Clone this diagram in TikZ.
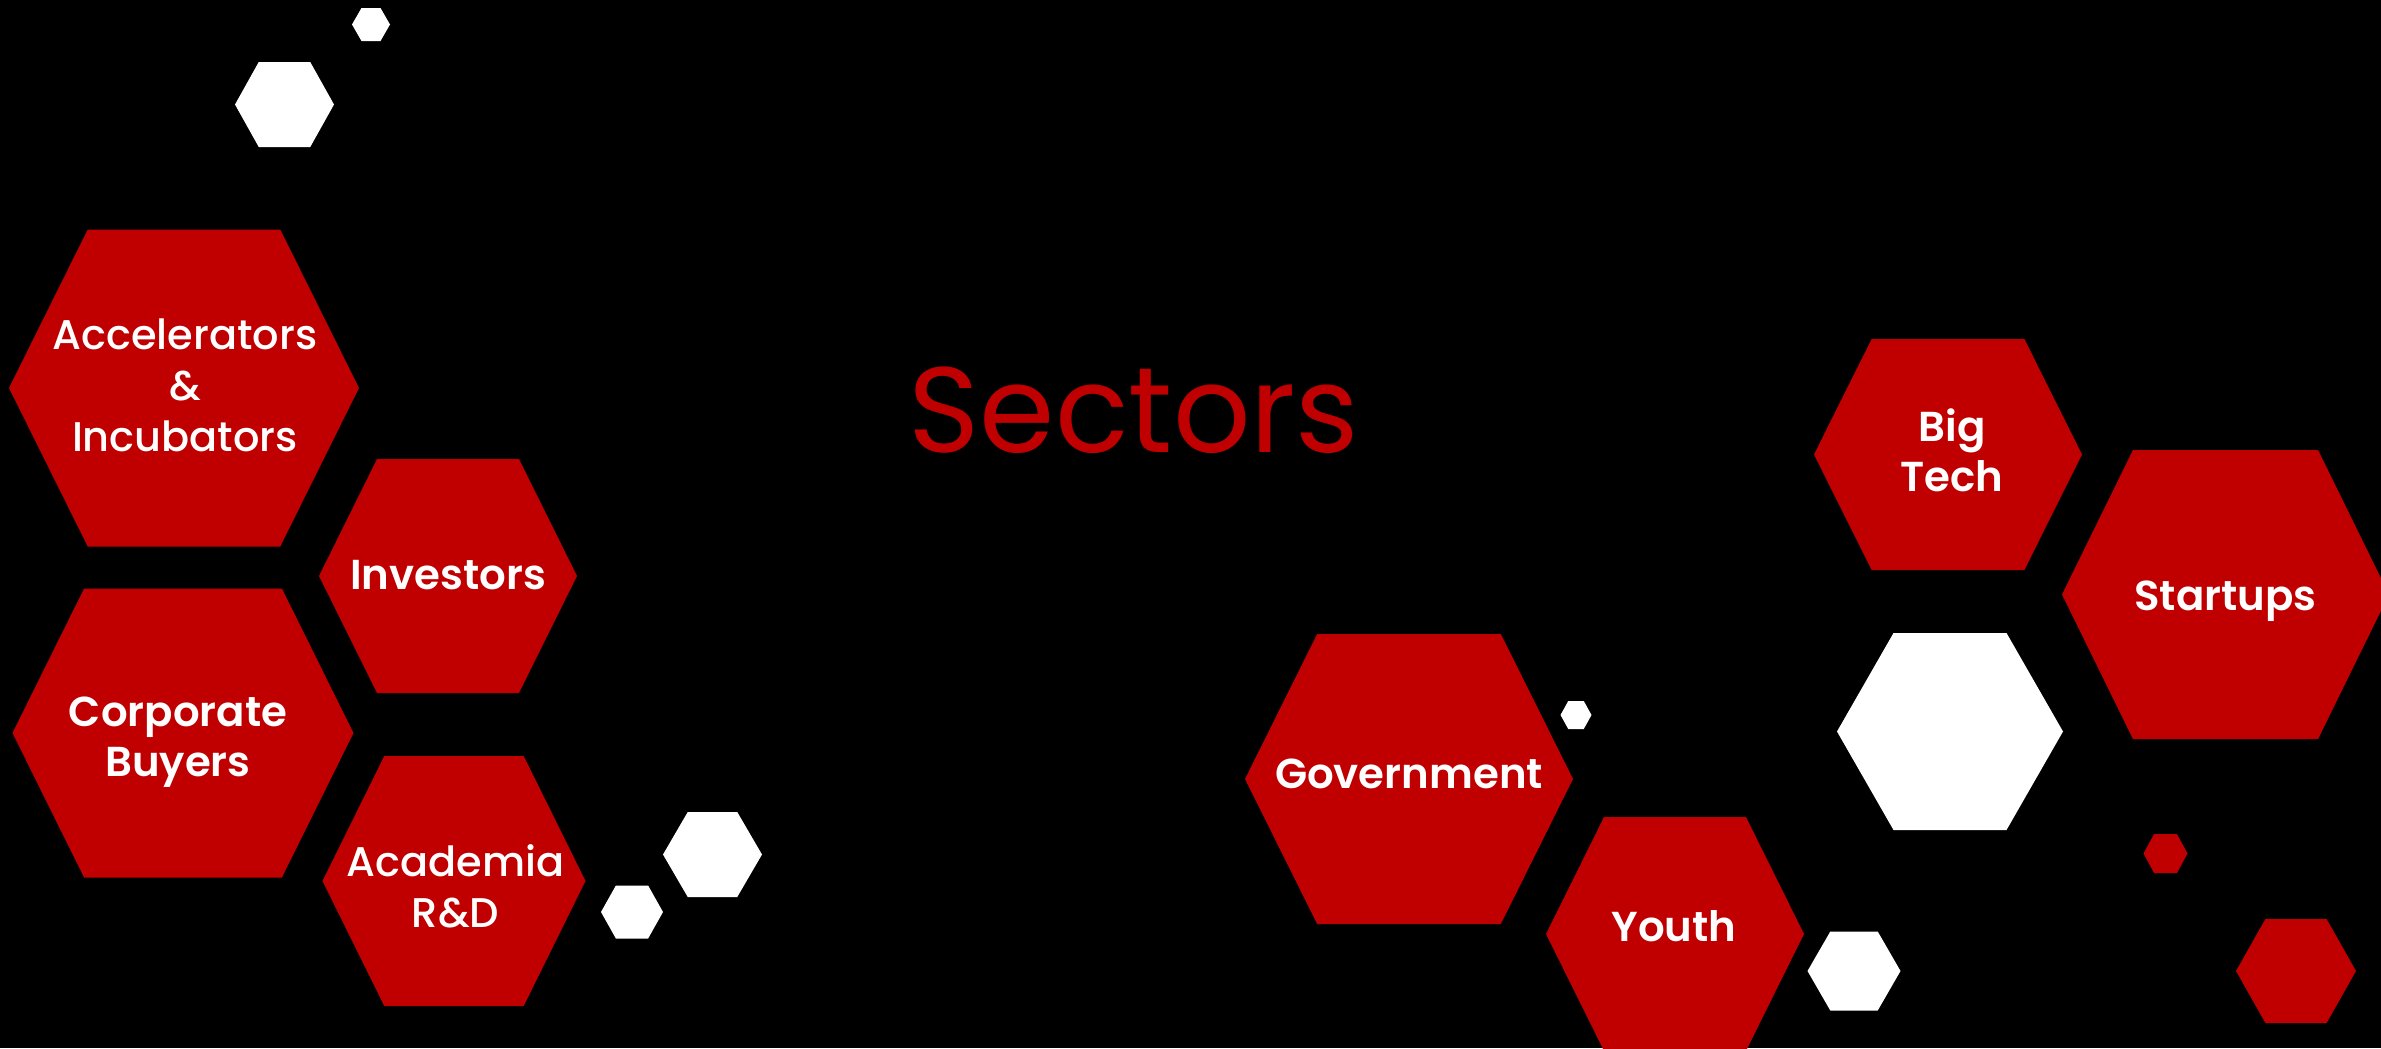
\documentclass[tikz,border=0pt]{standalone}
\usepackage{fontspec}
\setmainfont{Poppins}[BoldFont={Poppins SemiBold}]
\newfontfamily\mediumfont{Poppins Medium}
\definecolor{sectorred}{RGB}{192,0,0}
% flat-topped hexagon: [colour]{cx}{cy}{width}{height}{top edge / width}
\newcommand{\hexcell}[6][sectorred]{%
  \fill[#1] (#2,#3) ++({-#4/2},0) -- ++({(1-#6)*#4/2},{-#5/2}) -- ++({#6*#4},0)
    -- ++({(1-#6)*#4/2},{#5/2}) -- ++({-(1-#6)*#4/2},{#5/2}) -- ++({-#6*#4},0) -- cycle;}
\tikzset{
  hextext/.style={text=white, align=center, inner sep=0pt, text height=8.6pt, text depth=0pt,
    font=\mediumfont\fontsize{11.8}{14.4}\selectfont},
  hexbold/.style={hextext, font=\bfseries\fontsize{11.9}{14.4}\selectfont},
  twolines/.style={text height=23pt},
  threelines/.style={text height=37.4pt},
  titletext/.style={text=sectorred, inner sep=0pt, text height=25.2pt, text depth=0pt,
    font=\fontsize{34.5}{40}\selectfont}
}
\begin{document}
\begin{tikzpicture}[x=0.01cm, y=-0.01cm]
  \useasboundingbox (0,0) rectangle (2381,1048);
  \fill[black] (0,0) rectangle (2381,1048);
  % red cells
  \hexcell{184}{388}{350}{317}{0.55}
  \hexcell{448}{576}{258}{234}{0.55}
  \hexcell{183}{733}{341}{289}{0.58}
  \hexcell{454}{881}{263}{250}{0.53}
  \hexcell{1409}{779}{328}{290}{0.56}
  \hexcell{1675}{934}{258}{234}{0.55}
  \hexcell{1948}{454.5}{268}{231}{0.57}
  \hexcell{2225.5}{594.5}{327}{289}{0.566}
  \hexcell{2165.5}{853.5}{44}{39}{0.52}
  \hexcell{2296}{971}{120}{104}{0.51}
  % white cells
  \hexcell[white]{371}{24.5}{38}{33}{0.5}
  \hexcell[white]{284.5}{104.5}{99}{85}{0.52}
  \hexcell[white]{632}{912}{62}{53}{0.52}
  \hexcell[white]{712.5}{854.5}{99}{85}{0.5}
  \hexcell[white]{1576}{715}{31}{28}{0.5}
  \hexcell[white]{1950}{731.5}{226}{197}{0.5}
  \hexcell[white]{1854}{971}{93}{79}{0.51}
  % labels
  \node[titletext] (sectors) at (1134,408) {Sectors};
  \node[hextext, threelines] (accel) at (185,385.5) {Accelerators\\\&\\Incubators};
  \node[hexbold] (invest) at (448,574.5) {Investors};
  \node[hexbold, twolines] (corp) at (178,736.5) {Corporate\\Buyers};
  \node[hextext, twolines] (acad) at (455.5,887) {Academia\\R\&D};
  \node[hexbold] (gov) at (1409,773.5) {Government};
  \node[hexbold] (youth) at (1674,926.5) {Youth};
  \node[hexbold, twolines] (bigtech) at (1952,451.5) {Big\\Tech};
  \node[hexbold] (startups) at (2225.5,595) {Startups};
\end{tikzpicture}
\end{document}
